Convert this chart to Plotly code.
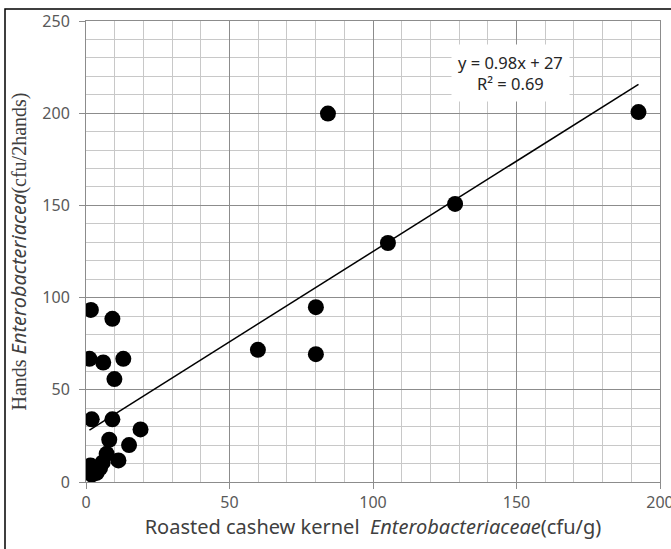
import plotly.graph_objects as go

kernel_x = [84.3, 192.5, 128.6, 105.2, 80.1, 80.1, 59.9,
            1.7, 9.2, 1.2, 6.0, 13.0, 9.9, 2.0, 9.2, 19.0, 15.0,
            8.1, 11.3, 7.2, 5.8, 1.6, 2.0, 3.7, 4.9]
hands_y = [199.8, 200.6, 150.8, 129.6, 94.8, 69.3, 71.7,
           93.3, 88.5, 66.8, 64.8, 66.8, 55.8, 34.0, 34.0, 28.5, 20.0,
           22.9, 11.7, 15.3, 10.6, 9.0, 4.0, 4.9, 7.6]
slope = 0.98
intercept = 27
r2 = 0.69

FONT = "Noto Sans"
SERIF = "Liberation Serif"

fig = go.Figure()

x_lo, x_hi = min(kernel_x), max(kernel_x)
fig.add_trace(go.Scatter(
    x=[x_lo, x_hi], y=[slope * x_lo + intercept, slope * x_hi + intercept],
    mode="lines", line=dict(color="black", width=1.5), hoverinfo="skip",
    showlegend=False))

fig.add_trace(go.Scatter(
    x=kernel_x, y=hands_y, mode="markers",
    marker=dict(color="black", size=16, line=dict(width=0)),
    showlegend=False))

fig.add_annotation(
    x=0.739, y=0.888, xref="paper", yref="paper", xanchor="center", yanchor="middle",
    text=f"y = {slope}x + {intercept}<br>R² = {r2}",
    showarrow=False, bgcolor="white", borderpad=6,
    font=dict(family=FONT, size=16.5, color="#262626"), align="center")

axis_common = dict(
    showline=True, linecolor="#8c8c8c", linewidth=1, mirror=True,
    zeroline=False, ticks="outside", ticklen=6, automargin=False,
    tickcolor="#8c8c8c", gridcolor="#8c8c8c", gridwidth=1,
    tickfont=dict(family=FONT, size=16, color="#595959"),
    ticklabeloverflow="allow",
    minor=dict(dtick=10, showgrid=True, gridcolor="#c8c8c8", gridwidth=1, ticks=""),
)

fig.update_xaxes(range=[0, 200], dtick=50, **axis_common,
                 title=dict(text="Roasted cashew kernel  <i>Enterobacteriaceae</i>(cfu/g)",
                            font=dict(family=FONT, size=20, color="#404040"), standoff=6))
fig.update_yaxes(range=[0, 250], dtick=50, ticklabelstandoff=6, **axis_common,
                 title=dict(text=f"<span style='font-family:{SERIF}'>Hands </span><i>Enterobacteriacea</i>"
                                 f"<span style='font-family:{SERIF}'>(cfu/2hands)</span>",
                            font=dict(family=FONT, size=20, color="#404040"), standoff=10))

fig.add_shape(type="rect", xref="paper", yref="paper",
              x0=(5 - 86) / 574, x1=1.1, y0=-0.3, y1=(482 - 9) / 461,
              line=dict(color="black", width=1.5), layer="below")

fig.update_layout(
    width=671, height=549,
    margin=dict(l=86, r=11, t=21, b=67),
    paper_bgcolor="white", plot_bgcolor="white",
)

fig.write_html("out.html")
